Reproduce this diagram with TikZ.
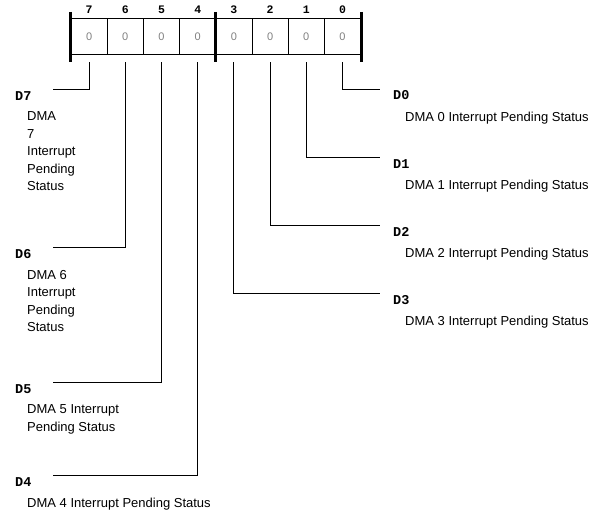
\documentclass[tikz,border=0pt]{standalone}
\usepackage{fontspec}
\setmainfont{Liberation Sans}
\newfontfamily\regmono{Liberation Mono}
\usetikzlibrary{positioning}

\begin{document}
\begin{tikzpicture}[x=1pt, y=-1pt,
    every node/.style={inner sep=0pt},
    cell/.style={draw, line width=1pt, minimum width=36.2pt, minimum height=36.7pt, font=\fontsize{11}{11}\selectfont, text=black!50},
    bitnum/.style={font=\regmono\bfseries\fontsize{11.5}{11.5}\selectfont},
    fieldname/.style={anchor=west, font=\regmono\bfseries\fontsize{13.5}{13.5}\selectfont},
    fielddesc/.style={anchor=north west, align=left, font=\fontsize{13}{17.5}\selectfont},
    leader/.style={line width=0.9pt},
    sep/.style={line width=3pt}
]
\useasboundingbox (0,0) rectangle (592,513);

% Register cells and bit numbers
\foreach \b [count=\i from 0] in {7,6,5,4,3,2,1,0} {
    \node[cell] (c\b) at ({89.1+36.2*\i},36.65) {0};
    \node[bitnum] (n\b) at ({89.1+36.2*\i},10) {\b};
}

% Byte separators
\draw[sep] ([yshift=6pt]c7.north west) -- ([yshift=-7pt]c7.south west);
\draw[sep] ([yshift=6pt]c3.north west) -- ([yshift=-7pt]c3.south west);
\draw[sep] ([yshift=6pt]c0.north east) -- ([yshift=-7pt]c0.south east);

% Leader ends
\coordinate (e7) at (53,89);
\coordinate (e6) at (53,247.3);
\coordinate (e5) at (53,382.3);
\coordinate (e4) at (53,475);
\coordinate (e3) at (380,293.3);
\coordinate (e2) at (380,225);
\coordinate (e1) at (380,157.3);
\coordinate (e0) at (380,89);

% Leaders
\foreach \b in {7,6,5,4,3,2,1,0}
    \draw[leader] ([yshift=-7pt]c\b.south) |- (e\b);

% Left fields
\node[fieldname] (f7) at (15,96) {D7};
\node[fielddesc] (t7) at (27,111.5) {DMA\\7\\Interrupt\\Pending\\Status};

\node[fieldname] (f6) at (15,254) {D6};
\node[fielddesc] (t6) at (27,269.8) {DMA 6\\Interrupt\\Pending\\Status};

\node[fieldname] (f5) at (15,389) {D5};
\node[fielddesc] (t5) at (27,404.8) {DMA 5 Interrupt\\Pending Status};

\node[fieldname] (f4) at (15,482) {D4};
\node[fielddesc] (t4) at (27,497.5) {DMA 4 Interrupt Pending Status};

% Right fields
\node[fieldname] (f0) at (393,95.5) {D0};
\node[fielddesc] (t0) at (405,111.5) {DMA 0 Interrupt Pending Status};

\node[fieldname] (f1) at (393,164) {D1};
\node[fielddesc] (t1) at (405,179.8) {DMA 1 Interrupt Pending Status};

\node[fieldname] (f2) at (393,231.5) {D2};
\node[fielddesc] (t2) at (405,247.5) {DMA 2 Interrupt Pending Status};

\node[fieldname] (f3) at (393,300) {D3};
\node[fielddesc] (t3) at (405,315.8) {DMA 3 Interrupt Pending Status};

\end{tikzpicture}
\end{document}
